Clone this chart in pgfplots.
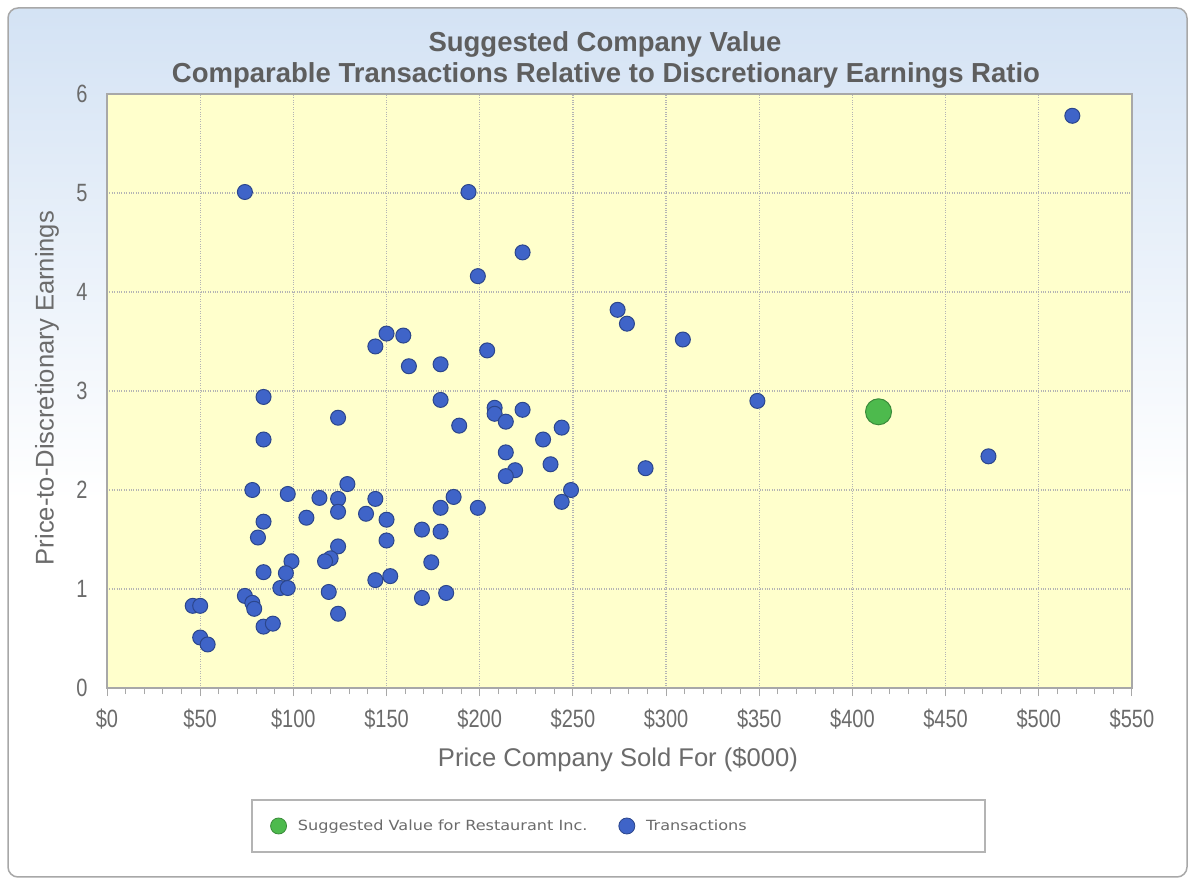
\documentclass[border=0pt]{standalone}
\usepackage{fontspec}
\setmainfont{Liberation Sans}
\newfontfamily\legendfont[FakeStretch=1.15]{DejaVu Sans}
\newfontfamily\tickfont[FakeStretch=0.8]{Liberation Sans}
\usepackage{pgfplots}
\pgfplotsset{compat=1.18}
\definecolor{plotbg}{HTML}{FFFFCC}
\definecolor{txtgray}{HTML}{6B6B6B}
\definecolor{titlegray}{HTML}{5E5E5E}
\definecolor{gridgray}{HTML}{B4B4B4}
\definecolor{framegray}{HTML}{A8A8A8}
\definecolor{topblue}{HTML}{D3E2F4}
\definecolor{bluept}{HTML}{3F64C8}
\definecolor{greenpt}{HTML}{4DBA4D}
\begin{document}
\begin{tikzpicture}[x=1pt,y=1pt]
\useasboundingbox (0,0) rectangle (1193,880);
\begin{scope}
\clip[rounded corners=10pt] (8,3) rectangle (1187,872);
\fill[white] (0,0) rectangle (1193,880);
\shade[top color=topblue, bottom color=white] (0,380) rectangle (1193,880);
\end{scope}
\draw[framegray, line width=1.5pt, rounded corners=10pt] (8,3) rectangle (1187,872);
\node[font=\fontsize{27.5}{27.5}\selectfont\bfseries, text=titlegray] at (605,836) {Suggested Company Value};
\node[font=\fontsize{27.5}{27.5}\selectfont\bfseries, text=titlegray] at (606,805) {Comparable Transactions Relative to Discretionary Earnings Ratio};
\draw[gridgray, line width=1.2pt, fill=white] (252,28) rectangle (985,80);
\begin{axis}[
  at={(107pt,192pt)}, anchor=south west, scale only axis,
  width=1025pt, height=594pt,
  xmin=0, xmax=550, ymin=0, ymax=6,
  axis background/.style={fill=plotbg},
  axis line style={framegray, line width=2pt},
  grid=major,
  major grid style={gridgray, dotted, line width=1.3pt},
  xtick={0,50,...,550},
  xticklabels={\$0,\$50,\$100,\$150,\$200,\$250,\$300,\$350,\$400,\$450,\$500,\$550},
  ytick={0,1,...,6},
  yticklabels={0,1,2,3,4,5,6},
  minor x tick num=4,
  tick align=outside,
  xtick pos=bottom, ytick pos=left,
  major tick length=8pt, minor tick length=6pt,
  x tick style={framegray, line width=1pt},
  y tick style={draw=none},
  tick label style={font=\tickfont\fontsize{25}{25}\selectfont, text=txtgray},
  xticklabel style={yshift=-9pt},
  yticklabel style={xshift=-8pt},
  xlabel={Price Company Sold For (\$000)},
  ylabel={Price-to-Discretionary Earnings},
  label style={font=\fontsize{25.6}{25.6}\selectfont, text=txtgray},
  xlabel style={at={(axis description cs:0.4985,-0.1212)}, anchor=center},
  ylabel style={at={(axis description cs:-0.0585,0.505)}, anchor=center},
  legend style={at={(axis description cs:0.159,-0.2323)}, anchor=west, draw=none, fill=none,
    inner sep=0pt,
    font=\legendfont\fontsize{14}{14}\selectfont, text=txtgray, legend columns=2,
    /tikz/every odd column/.append style={column sep=9pt},
    /tikz/every even column/.append style={column sep=29pt}},
  legend cell align=left,
]
\addplot[only marks, mark=*, mark size=13pt, mark options={fill=greenpt, draw=greenpt!75!black, line width=1pt},
  legend image code/.code={\draw[fill=greenpt, draw=greenpt!75!black, line width=0.8pt] (8pt,0pt) circle (8pt);}]
  coordinates {(414,2.79)};
\addlegendentry{Suggested Value for Restaurant Inc.}
\addplot[only marks, mark=*, mark size=7.5pt, mark options={fill=bluept, draw=bluept!70!black, line width=1pt},
  legend image code/.code={\draw[fill=bluept, draw=bluept!70!black, line width=0.8pt] (8pt,0pt) circle (8pt);}]
  coordinates {
(518,5.78) (74,5.01) (194,5.01) (223,4.40) (199,4.16) (274,3.82) (279,3.68) (309,3.52)
(150,3.58) (159,3.56) (144,3.45) (204,3.41) (162,3.25) (179,3.27) (84,2.94) (179,2.91)
(349,2.90) (124,2.73) (208,2.83) (208,2.77) (214,2.69) (223,2.81) (189,2.65) (84,2.51)
(234,2.51) (244,2.63) (214,2.38) (238,2.26) (219,2.20) (214,2.14) (289,2.22) (473,2.34)
(249,2.00) (244,1.88) (129,2.06) (78,2.00) (97,1.96) (114,1.92) (124,1.91) (144,1.91)
(124,1.78) (107,1.72) (139,1.76) (150,1.70) (186,1.93) (179,1.82) (199,1.82) (169,1.60)
(179,1.58) (150,1.49) (124,1.43) (120,1.31) (117,1.28) (174,1.27) (152,1.13) (144,1.09)
(119,0.97) (182,0.96) (169,0.91) (124,0.75) (84,1.68) (81,1.52) (99,1.28) (84,1.17)
(96,1.16) (93,1.01) (97,1.01) (74,0.93) (78,0.86) (79,0.80) (46,0.83) (50,0.83)
(84,0.62) (89,0.65) (50,0.51) (54,0.44)
};
\addlegendentry{Transactions}
\end{axis}
\end{tikzpicture}
\end{document}
